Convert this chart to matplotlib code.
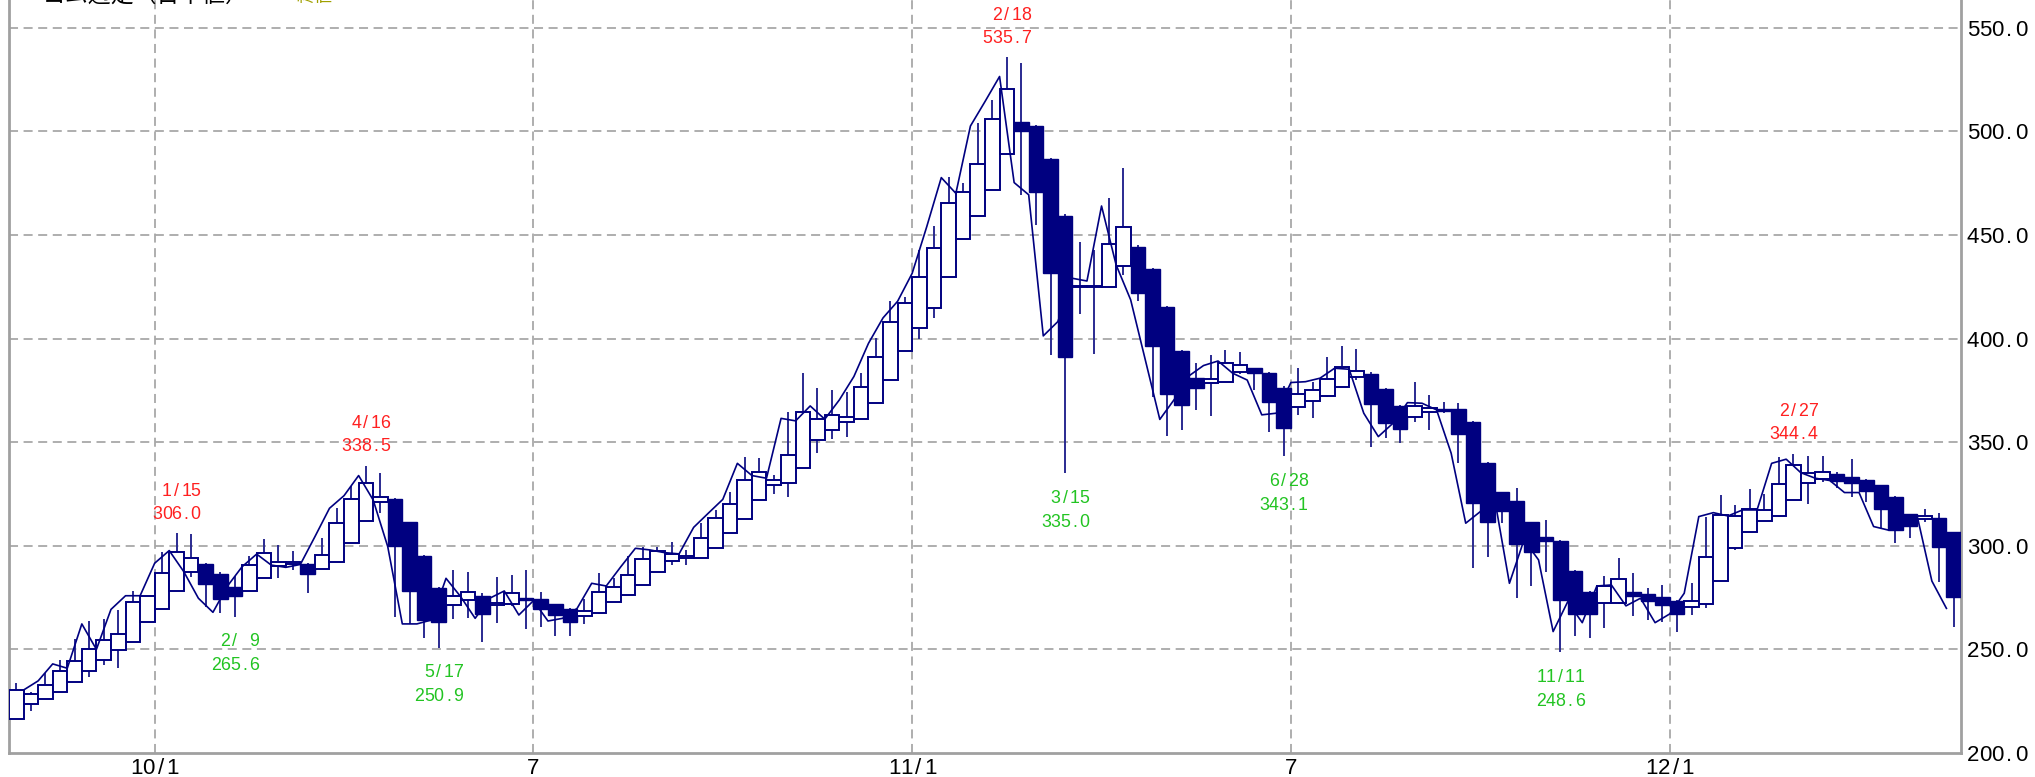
import matplotlib
matplotlib.use('Agg')
import matplotlib.pyplot as plt
import matplotlib.transforms as mtransforms
from matplotlib.patches import Rectangle
import numpy as np

# ---------------- data ----------------
opens = [216.4, 223.7, 225.9, 229.3, 234.4, 239.6, 244.9, 249.7, 253.4, 263.4,
         269.5, 278.4, 287.5, 291.0, 286.4, 280.3, 278.2, 284.3, 290.4, 291.3,
         291.2, 288.8, 292.0, 301.5, 312.0, 321.3, 322.4, 311.3, 295.1, 279.8,
         271.4, 273.9, 275.8, 271.4, 271.8, 274.7, 274.2, 271.8, 269.3, 266.1,
         267.4, 272.7, 276.3, 281.1, 287.2, 292.7, 294.3, 294.3, 298.8, 306.0,
         312.8, 322.1, 329.4, 330.5, 337.4, 351.1, 355.9, 359.6, 361.0, 369.1,
         380.0, 394.2, 405.0, 415.0, 429.9, 447.9, 459.2, 471.8, 489.0, 504.4,
         502.7, 486.7, 459.4, 424.8, 425.0, 424.8, 435.2, 444.4, 433.5, 415.4,
         394.2, 380.9, 378.8, 379.2, 384.0, 385.7, 383.3, 376.3, 366.9, 369.9,
         372.3, 376.5, 381.3, 382.9, 375.7, 367.5, 362.0, 364.8, 365.9, 365.9,
         359.9, 340.1, 325.8, 321.6, 311.3, 304.4, 302.3, 288.0, 277.6, 272.6,
         272.2, 277.9, 276.7, 275.1, 273.4, 270.3, 271.8, 283.0, 298.8, 306.8,
         312.0, 314.4, 322.1, 330.5, 332.3, 334.5, 333.1, 331.8, 329.2, 323.7,
         315.4, 313.1, 313.6, 306.5]
highs = [233.6, 229.5, 238.5, 244.9, 254.9, 263.7, 264.5, 269.0, 278.4, 276.0,
         296.9, 306.0, 305.5, 291.5, 287.5, 285.4, 295.3, 303.1, 300.4, 297.7,
         291.5, 303.9, 318.4, 328.9, 338.5, 335.3, 323.0, 311.5, 295.5, 280.0,
         288.3, 287.2, 277.0, 285.0, 285.9, 288.3, 277.6, 272.0, 270.0, 274.2,
         286.7, 284.3, 295.1, 299.3, 299.6, 302.0, 298.0, 311.2, 317.3, 326.1,
         343.0, 342.6, 334.0, 364.8, 383.3, 376.0, 375.2, 374.4, 383.3, 400.2,
         418.0, 420.0, 443.0, 454.5, 478.2, 475.0, 503.9, 515.2, 535.7, 532.9,
         503.0, 487.0, 460.0, 446.8, 442.8, 467.7, 482.2, 445.0, 434.0, 415.5,
         394.5, 388.4, 392.1, 394.5, 393.7, 386.0, 384.0, 377.0, 385.7, 379.2,
         391.0, 396.5, 394.8, 384.0, 376.0, 368.0, 379.2, 372.8, 369.6, 368.8,
         360.0, 340.5, 326.0, 327.8, 311.5, 312.5, 303.0, 288.5, 278.0, 285.4,
         294.0, 286.7, 279.5, 281.1, 274.0, 281.9, 314.1, 324.5, 319.7, 327.3,
         324.9, 343.0, 344.4, 343.4, 343.4, 335.8, 341.8, 332.0, 329.5, 324.0,
         315.5, 317.8, 315.7, 306.5]
lows = [216.4, 220.4, 225.9, 229.3, 234.4, 236.5, 242.5, 240.9, 253.4, 263.4,
        269.5, 278.4, 284.8, 270.6, 267.4, 265.6, 278.0, 284.3, 284.3, 288.3,
        277.1, 288.8, 292.0, 301.5, 312.0, 315.7, 265.5, 262.3, 255.3, 250.9,
        264.5, 265.0, 253.4, 262.6, 271.0, 259.9, 261.0, 256.6, 256.5, 262.3,
        267.0, 272.7, 276.3, 281.1, 287.2, 290.7, 290.7, 294.3, 298.8, 306.0,
        312.8, 322.1, 325.0, 323.7, 337.4, 344.6, 351.6, 352.7, 361.0, 369.1,
        380.0, 394.0, 400.0, 410.0, 429.9, 447.9, 459.2, 471.8, 489.0, 469.3,
        454.9, 392.1, 335.0, 411.9, 392.6, 424.8, 430.7, 418.0, 372.0, 353.0,
        355.9, 365.6, 362.7, 379.0, 383.0, 375.2, 355.1, 343.1, 363.2, 361.5,
        372.0, 376.5, 380.0, 347.9, 351.9, 349.8, 359.9, 355.9, 364.0, 339.8,
        289.1, 294.8, 311.2, 275.0, 280.8, 287.5, 248.6, 256.5, 255.3, 260.2,
        272.0, 266.1, 264.2, 263.4, 258.2, 266.6, 270.0, 283.0, 298.0, 306.5,
        312.0, 314.0, 322.0, 320.0, 331.0, 327.8, 323.7, 321.3, 308.4, 301.5,
        303.6, 311.7, 282.7, 261.0]
closes = [230.4, 228.3, 232.8, 239.7, 244.6, 250.0, 254.5, 257.4, 273.0, 275.9,
          287.0, 296.9, 294.0, 281.7, 274.2, 275.8, 290.7, 296.7, 292.4, 292.0,
          286.4, 295.6, 310.9, 322.6, 330.5, 323.7, 300.1, 278.4, 264.2, 263.1,
          275.9, 277.9, 266.9, 272.6, 277.4, 273.7, 269.3, 266.6, 263.1, 268.7,
          277.9, 280.0, 285.9, 293.5, 297.7, 296.1, 294.8, 303.6, 313.3, 320.0,
          331.8, 335.8, 331.8, 343.8, 364.8, 361.0, 363.2, 362.3, 376.8, 391.0,
          408.0, 417.0, 429.9, 443.6, 465.3, 470.6, 484.3, 506.0, 520.4, 500.2,
          470.6, 431.5, 391.0, 425.4, 425.5, 445.5, 453.7, 421.9, 396.6, 373.1,
          368.0, 376.3, 380.4, 388.1, 387.3, 383.3, 369.3, 356.7, 373.1, 375.2,
          380.5, 386.2, 384.4, 368.5, 359.1, 356.2, 367.5, 366.4, 365.2, 354.0,
          320.5, 311.3, 317.0, 300.9, 297.2, 302.5, 273.9, 266.9, 266.9, 280.6,
          283.8, 275.8, 273.5, 271.4, 266.9, 273.4, 294.4, 314.9, 314.4, 317.6,
          317.3, 329.7, 339.0, 335.3, 335.8, 331.3, 330.5, 326.5, 317.9, 307.6,
          309.7, 314.4, 299.3, 275.5]

# thin line series (plotted between consecutive weeks)
line_vals = [230.4, 234.8, 243.0, 240.9, 262.3, 250.0, 269.3, 275.9, 275.9, 291.6,
             297.7, 287.5, 274.7, 267.9, 280.6, 289.9, 296.0, 290.7, 289.6, 291.0,
             304.4, 318.1, 324.2, 333.9, 322.1, 299.6, 262.3, 262.3, 264.2, 284.3,
             275.5, 265.0, 274.7, 278.2, 266.6, 273.5, 263.7, 265.0, 269.8, 281.9,
             280.6, 289.9, 298.8, 298.0, 296.7, 296.1, 308.9, 315.7, 322.4, 339.8,
             333.9, 332.6, 361.5, 360.3, 367.5, 361.1, 370.4, 381.7, 397.7, 410.0,
             418.0, 431.5, 454.0, 477.7, 470.1, 502.6, 514.4, 526.5, 475.3, 469.4,
             401.3, 408.2, 429.1, 427.8, 464.0, 435.6, 418.7, 389.9, 361.0, 370.7,
             382.0, 387.0, 389.2, 383.3, 380.0, 363.2, 364.0, 378.8, 379.2, 380.9,
             385.7, 385.2, 364.0, 352.7, 359.1, 369.1, 368.8, 365.6, 344.7, 310.9,
             316.5, 322.1, 281.9, 302.8, 293.2, 258.6, 273.0, 262.9, 280.6, 281.1,
             271.0, 274.7, 262.9, 267.1, 277.1, 314.1, 316.0, 314.4, 317.3, 317.3,
             339.8, 341.8, 335.3, 332.6, 331.5, 325.7, 325.7, 309.3, 307.6, 314.9,
             314.1, 283.0, 269.8]

x_tick_pos = [9.5, 35.5, 61.5, 87.5, 113.5]
x_tick_labels = ["10/1", "7", "11/1", "7", "12/1"]
y_ticks = [200, 250, 300, 350, 400, 450, 500, 550]

hi_marks = [11, 24, 68, 122]
hi_dates = [" 1/15", " 4/16", " 2/18", " 2/27"]
lo_marks = [15, 29, 72, 87, 106]
lo_dates = [" 2/ 9", " 5/17", " 3/15", " 6/28", "11/11"]

title_main = "ゴム週足（日中値）"
title_sub = "終値"

# ---------------- figure ----------------
W, H = 2035, 777
fig = plt.figure(figsize=(W / 100, H / 100), dpi=100)
ax = fig.add_axes([9 / W, 24 / H, 1952 / W, 753 / H])
ax.set_xlim(-0.5, len(opens) - 0.5)
ax.set_ylim(200, 200 + 753 * 50 / 103.6)

navy = '#000080'
grid_c = '#a8a8a8'

for s in ['left', 'right', 'bottom']:
    ax.spines[s].set_color('#a0a0a0')
    ax.spines[s].set_linewidth(2.0)
ax.spines['top'].set_visible(False)
ax.set_xticks([])
ax.set_yticks([])

plt.rcParams['lines.scale_dashes'] = False
for yv in y_ticks[1:]:
    ax.axhline(yv, color=grid_c, lw=1.3, dashes=(6.5, 4), zorder=1)
for xv in x_tick_pos:
    ax.axvline(xv, color=grid_c, lw=1.3, dashes=(6.5, 4), zorder=1)

# candles
idx = np.arange(len(opens))
ax.vlines(idx, lows, highs, color='#2a2a90', lw=1.4, zorder=2)
for i in idx:
    o, c = opens[i], closes[i]
    lo_b, hgt = min(o, c), abs(c - o)
    if hgt < 0.6:
        hgt = 0.6
    if c >= o:
        ax.add_patch(Rectangle((i - 0.5, lo_b), 1.0, hgt, facecolor='white',
                               edgecolor=navy, lw=1.4, zorder=3))
    else:
        ax.add_patch(Rectangle((i - 0.5, lo_b), 1.0, hgt, facecolor=navy,
                               edgecolor=navy, lw=1.0, zorder=3))

ax.plot(np.arange(1, len(line_vals) + 1) - 0.5, line_vals, color=navy, lw=1.2, zorder=4)


# monospaced-style text helper
def mono(x, y, s, trans, pitch, size, color, ha='center', dx=0.0, dy=0.0):
    n = len(s)
    for k, ch in enumerate(s):
        if ch == ' ':
            continue
        off = (k - (n - 1) / 2) * pitch if ha == 'center' else (k + 0.5) * pitch
        t = mtransforms.offset_copy(trans, fig=fig, x=dx + off, y=dy, units='dots')
        ax.text(x, y, ch, transform=t, ha='center', va='baseline', fontsize=size,
                color=color, family='Liberation Sans', clip_on=False, zorder=6)


ann_size = 12.8
ann_em = ann_size * 100 / 72
ann_half = 0.358 * ann_em
for i, d in zip(hi_marks, hi_dates):
    mono(i, highs[i], d, ax.transData, 9.6, ann_size, '#ff2020', dy=44 - ann_half)
    mono(i, highs[i], f"{highs[i]:.1f}", ax.transData, 9.6, ann_size, '#ff2020', dy=21 - ann_half)
for i, d in zip(lo_marks, lo_dates):
    mono(i, lows[i], d, ax.transData, 9.6, ann_size, '#22c422', dy=-23 - ann_half)
    mono(i, lows[i], f"{lows[i]:.1f}", ax.transData, 9.6, ann_size, '#22c422', dy=-47 - ann_half)

lab_size = 16
lab_em = lab_size * 100 / 72
# y labels on the right
ytrans = mtransforms.blended_transform_factory(ax.transAxes, ax.transData)
for yv in y_ticks:
    mono(1.0, yv, f"{yv:.1f}", ytrans, 12, lab_size, 'black', ha='left',
         dx=6, dy=-0.358 * lab_em)
# x labels
xtrans = mtransforms.blended_transform_factory(ax.transData, ax.transAxes)
for xv, lab in zip(x_tick_pos, x_tick_labels):
    mono(xv, 0.0, lab, xtrans, 12, lab_size, 'black', dy=-20.5)

# title, clipped by the top edge as in the original
fig.text(43 / W, 1 - 1.5 / H, title_main, fontsize=16.5, family=['Noto Sans CJK JP', 'DejaVu Sans'],
         va='baseline', ha='left', color='black')
fig.text(297 / W, 1 - 1.5 / H, title_sub, fontsize=13, family=['Noto Sans CJK JP', 'DejaVu Sans'],
         va='baseline', ha='left', color='#a0a000')

fig.savefig('out.png', dpi=100, facecolor='white')
